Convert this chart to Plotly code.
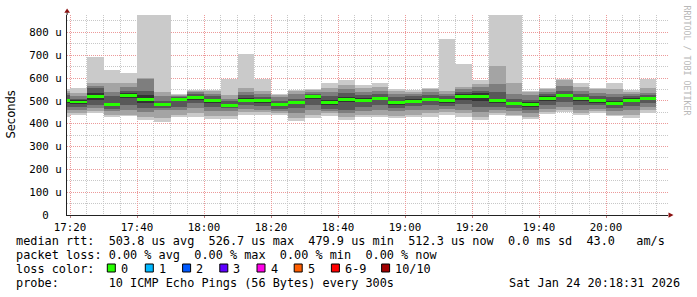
import plotly.graph_objects as go
import pandas as pd

# ---- data -------------------------------------------------------------
DAY = "2026-01-24"
# end time of each 5-minute ping round
end_times = ["17:20", "17:25", "17:30", "17:35", "17:40", "17:45", "17:50", "17:55",
             "18:00", "18:05", "18:10", "18:15", "18:20", "18:25", "18:30", "18:35",
             "18:40", "18:45", "18:50", "18:55", "19:00", "19:05", "19:10", "19:15",
             "19:20", "19:25", "19:30", "19:35", "19:40", "19:45", "19:50", "19:55",
             "20:00", "20:05", "20:10", "20:15"]

# median rtt per round (microseconds)
median = [500, 495, 519, 485, 523, 507, 482, 504, 513, 500, 478, 503,
          500, 484, 494, 517, 491, 506, 503, 510, 491, 498, 506, 500,
          517, 517, 500, 488, 484, 510, 525, 509, 500, 490, 503, 510]

# 10 sorted ping times per round (microseconds)
pings = [
    [428, 445, 460, 472, 490, 510, 525, 535, 545, 554],
    [437, 448, 462, 475, 488, 502, 510, 520, 535, 558],
    [446, 455, 467, 481, 505, 533, 558, 565, 576, 692],
    [430, 440, 455, 465, 478, 492, 520, 540, 576, 634],
    [432, 440, 460, 480, 512, 534, 545, 560, 580, 622],
    [418, 430, 450, 470, 490, 525, 545, 597, 600, 960],
    [408, 425, 460, 470, 478, 486, 500, 520, 539, 950],
    [430, 440, 458, 475, 498, 510, 515, 520, 525, 529],
    [428, 445, 470, 490, 505, 521, 530, 538, 545, 549],
    [420, 432, 455, 475, 490, 510, 520, 530, 545, 549],
    [420, 435, 455, 468, 472, 484, 500, 510, 525, 597],
    [437, 450, 465, 480, 495, 511, 525, 540, 555, 707],
    [440, 450, 462, 478, 492, 508, 518, 530, 545, 595],
    [440, 446, 455, 465, 478, 490, 500, 515, 525, 529],
    [412, 425, 445, 470, 488, 500, 510, 530, 545, 549],
    [425, 440, 460, 480, 510, 524, 532, 540, 548, 554],
    [433, 445, 455, 465, 480, 502, 520, 540, 555, 576],
    [418, 430, 445, 460, 495, 517, 535, 550, 570, 590],
    [428, 440, 455, 475, 495, 511, 525, 540, 555, 571],
    [428, 440, 460, 480, 502, 518, 530, 545, 560, 576],
    [423, 435, 455, 470, 484, 498, 515, 530, 545, 554],
    [428, 440, 460, 478, 490, 506, 520, 530, 540, 546],
    [430, 445, 460, 480, 498, 514, 525, 540, 550, 558],
    [437, 450, 465, 478, 490, 510, 520, 530, 545, 769],
    [428, 445, 460, 485, 505, 529, 540, 550, 560, 663],
    [418, 430, 450, 475, 500, 534, 545, 560, 575, 593],
    [437, 445, 460, 475, 492, 508, 540, 575, 651, 940],
    [433, 440, 455, 470, 480, 496, 510, 530, 578, 930],
    [420, 430, 445, 460, 475, 493, 505, 525, 540, 543],
    [441, 450, 465, 480, 500, 520, 530, 540, 550, 558],
    [452, 460, 475, 495, 518, 532, 545, 565, 590, 597],
    [437, 448, 460, 480, 500, 518, 530, 545, 560, 576],
    [447, 455, 465, 480, 492, 508, 520, 535, 550, 558],
    [432, 440, 455, 470, 482, 498, 515, 530, 550, 576],
    [425, 440, 460, 478, 493, 513, 520, 530, 540, 549],
    [447, 460, 475, 490, 502, 518, 525, 535, 555, 595],
]

ytick_vals = [0, 100, 200, 300, 400, 500, 600, 700, 800]
ytick_text = ["0\u00a0\u00a0", "100 u", "200 u", "300 u", "400 u", "500 u", "600 u", "700 u", "800 u"]

smoke_colors = ["#cacaca", "#a4a4a4", "#7e7e7e", "#585858", "#323232"]

loss_labels = ["0", "1", "2", "3", "4", "5", "6-9", "10/10"]
loss_colors = ["#26ff00", "#00b8ff", "#0059ff", "#5e00ff", "#ff00e8", "#ff5e00", "#ff0000", "#a10000"]

line1 = "median rtt:  503.8 us avg  526.7 us max  479.9 us min  512.3 us now  0.0 ms sd  43.0   am/s"
line2 = "packet loss: 0.00 % avg  0.00 % max  0.00 % min  0.00 % now"
line3 = "loss color:"
line4 = "probe:       10 ICMP Echo Pings (56 Bytes) every 300s"
stamp = "Sat Jan 24 20:18:31 2026"

# ---- geometry helpers --------------------------------------------------
W, H = 697, 297
L, R, T, B = 67, 29, 15, 82
PW, PH = W - L - R, H - T - B


def px(x):
    return (x - L) / PW


def py(y):
    return (T + PH - y) / PH


MONO = "DejaVu Sans Mono"
STEP_MS = 300000
centers = [pd.Timestamp(f"{DAY} {t}") - pd.Timedelta(seconds=150) for t in end_times]

fig = go.Figure()
for i, col in enumerate(smoke_colors):
    lo = [p[i] for p in pings]
    hi = [p[9 - i] for p in pings]
    fig.add_trace(go.Bar(x=centers, base=lo, y=[h - l for l, h in zip(lo, hi)],
                         width=STEP_MS, marker=dict(color=col, line=dict(width=0)),
                         hoverinfo="skip", showlegend=False))

half = 6.5
fig.add_trace(go.Bar(x=centers, base=[m - half for m in median], y=[2 * half] * len(median),
                     width=STEP_MS, marker=dict(color=loss_colors[0], line=dict(width=0)),
                     showlegend=False))

major_grid = "#ec9a9a"
minor_grid = "#c8c8c8"
DOTS = "1px,1px"

fig.update_layout(
    width=W, height=H, margin=dict(l=L, r=R, t=T, b=B),
    paper_bgcolor="white", plot_bgcolor="white",
    barmode="overlay", bargap=0, showlegend=False,
    font=dict(family=MONO, size=10.8, color="#000"),
)
fig.update_xaxes(
    type="date", range=[f"{DAY} 17:19:06", f"{DAY} 20:18:30"],
    tick0=f"{DAY} 17:20", dtick=20 * 60000, tickformat="%H:%M",
    showgrid=True, gridcolor=major_grid, griddash=DOTS, gridwidth=1,
    minor=dict(dtick=5 * 60000, showgrid=True, gridcolor=minor_grid, griddash=DOTS),
    showline=True, linecolor="#222", linewidth=1, zeroline=False,
    ticks="outside", ticklen=2, tickcolor="#c08080",
    tickfont=dict(family=MONO, size=10.8, color="#000"),
)
fig.update_yaxes(
    range=[0, 876], tickvals=ytick_vals, ticktext=ytick_text,
    showgrid=True, gridcolor=major_grid, griddash=DOTS, gridwidth=1,
    minor=dict(dtick=50, showgrid=True, gridcolor=minor_grid, griddash=DOTS),
    showline=True, linecolor="#222", linewidth=1, zeroline=False,
    ticks="", ticklabelstandoff=2,
    tickfont=dict(family=MONO, size=10.8, color="#000"),
)

shapes = []
# axis arrows
shapes.append(dict(type="path", xref="paper", yref="paper",
                   path=f"M {px(64.3)} {py(12.8)} L {px(70)} {py(12.8)} L {px(67.1)} {py(8.5)} Z",
                   fillcolor="#8b1010", line=dict(width=0)))
shapes.append(dict(type="line", xref="paper", yref="paper",
                   x0=px(67.1), x1=px(67.1), y0=1, y1=py(12.5), line=dict(color="#222", width=1)))
shapes.append(dict(type="path", xref="paper", yref="paper",
                   path=f"M {px(668.5)} {py(212.5)} L {px(668.5)} {py(217.7)} L {px(673.5)} {py(215.1)} Z",
                   fillcolor="#8b1010", line=dict(width=0)))

annotations = []


def text(x, y, s, size=11.85, anchor="left", color="#000", family=MONO, angle=0):
    annotations.append(dict(xref="paper", yref="paper", x=px(x), y=py(y), text=s,
                            showarrow=False, xanchor=anchor, yanchor="middle",
                            textangle=angle, borderpad=0,
                            font=dict(family=family, size=size, color=color)))


LX = 14.6
text(LX, 241, line1.replace(" ", "&nbsp;"))
text(LX, 255, line2.replace(" ", "&nbsp;"))
text(LX, 269, line3.replace(" ", "&nbsp;"))
text(LX, 283, line4.replace(" ", "&nbsp;"))
text(681, 283, stamp.replace(" ", "&nbsp;"), anchor="right")

sq_x = [107.3, 145.3, 182.6, 219.8, 257.0, 294.2, 331.4, 381.6]
for sx, lab, col in zip(sq_x, loss_labels, loss_colors):
    shapes.append(dict(type="rect", xref="paper", yref="paper",
                       x0=px(sx), x1=px(sx + 8), y0=py(272), y1=py(264),
                       fillcolor=col, line=dict(color="#000", width=1)))
    text(sx + 12.5, 269, lab)

# y axis title and vertical watermark
text(10.5, 115, "Seconds", size=11.5, anchor="center", family="DejaVu Sans", angle=-90)
text(686.5, 60, "RRDTOOL / TOBI OETIKER", size=8.3, anchor="center", color="#b8b8b8", angle=90)

fig.update_layout(shapes=shapes, annotations=annotations)
fig.write_html("out.html")
